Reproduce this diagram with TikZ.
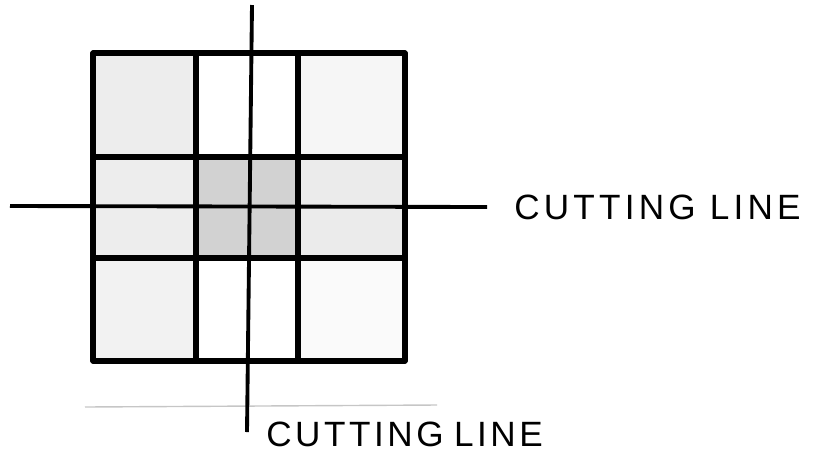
\documentclass[tikz,border=0pt]{standalone}
\usepackage{fontspec}
\setmainfont{Liberation Sans}
\tikzset{
  grid/.style={line width=2.9pt, line cap=round},
  cutline/.style={line width=2.2pt},
  label/.style={font=\fontsize{20}{20}\selectfont, inner sep=0pt}
}
\begin{document}
\begin{tikzpicture}[x=0.02cm, y=-0.02cm]
    \useasboundingbox (0,0) rectangle (815,451);

    % Заливка клеток
    \fill[gray!14] (93,53) rectangle (196,157);
    \fill[gray!7]  (298,53) rectangle (405,157);
    \fill[gray!14] (93,157) rectangle (196,258);
    \fill[gray!35] (196,157) rectangle (298,258);
    \fill[gray!16] (298,157) rectangle (405,258);
    \fill[gray!10] (93,258) rectangle (196,361);
    \fill[gray!4]  (298,258) rectangle (405,361);

    % Сетка
    \foreach \x in {93,196,298,405}
        \draw[grid] (\x,53) -- (\x,361);
    \foreach \y in {53,157,258,361}
        \draw[grid] (93,\y) -- (405,\y);

    % Край листа
    \draw[gray!45, line width=0.8pt] (85,407) -- (437,405);

    % Линии разреза
    \coordinate (vtop) at (252,5);
    \coordinate (vbot) at (247,432);
    \coordinate (hleft) at (10,206);
    \coordinate (hright) at (487,207);
    \draw[cutline] (vtop) -- (vbot);
    \draw[cutline] (hleft) -- (hright);

    \node[label, anchor=west] (hlabel) at (514,207)
        {\addfontfeature{LetterSpace=12}CUTTING LINE};
    \node[label, anchor=west] (vlabel) at (266,434)
        {\addfontfeature{LetterSpace=10}CUTTING\hspace{6pt}LINE};
\end{tikzpicture}
\end{document}
